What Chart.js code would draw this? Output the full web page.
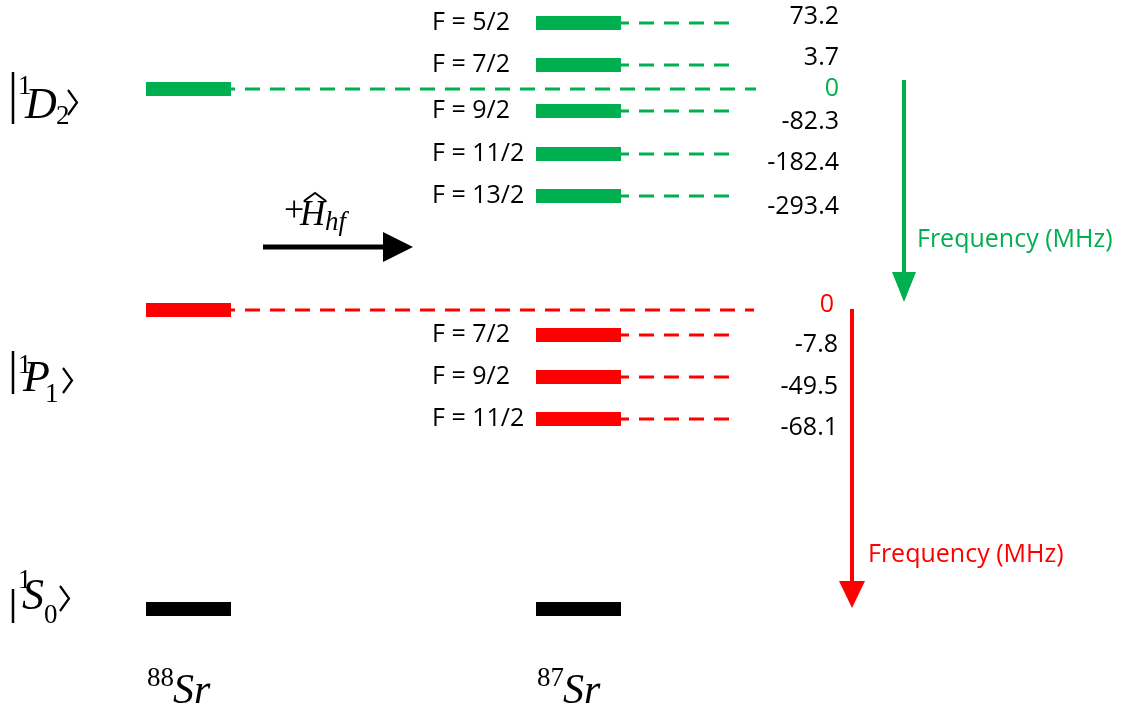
<!DOCTYPE html>
<html>
<head>
<meta charset="utf-8">
<script src="https://cdn.jsdelivr.net/npm/chart.js@4.4.1/dist/chart.umd.min.js"></script>
<style>
  html, body { margin: 0; padding: 0; background: #fff; }
  #wrap { width: 1125px; height: 711px; position: relative; }
</style>
</head>
<body>
<div id="wrap"><canvas id="myChart"></canvas></div>
<script>
'use strict';

// --- data ---
var isotopes = ['88', '87'];
var stateTerms = ['D', 'P', 'S'];
var stateJ = ['2', '1', '0'];
var stateColors = ['#00B050', '#FF0000', '#000000'];
var dLabels = ['F = 5/2', 'F = 7/2', 'F = 9/2', 'F = 11/2', 'F = 13/2'];
var dShifts = [73.2, 3.7, -82.3, -182.4, -293.4];
var pLabels = ['F = 7/2', 'F = 9/2', 'F = 11/2'];
var pShifts = [-7.8, -49.5, -68.1];
var axisTitle = 'Frequency (MHz)';

// --- layout of the schematic (diagram coordinates) ---
var col88 = [146, 231];
var col87 = [536, 621];
var stateY = [89, 310, 609];
var dRowY = [23, 65, 111, 154, 196];
var pRowY = [335, 377, 419];
var dShiftY = [17, 58, 122, 163, 207];
var pShiftY = [345, 387, 428];

function seg(x1, x2, y, color, width, dash) {
    return {
        data: [{ x: x1, y: y }, { x: x2, y: y }],
        borderColor: color,
        backgroundColor: color,
        borderWidth: width,
        borderDash: dash || [],
        borderCapStyle: 'butt',
        showLine: true,
        pointRadius: 0,
        clip: false
    };
}

var datasets = [];
// 88Sr levels
stateY.forEach(function (y, i) {
    datasets.push(seg(col88[0], col88[1], y, stateColors[i], 14));
});
// 87Sr hyperfine levels
dRowY.forEach(function (y) {
    datasets.push(seg(col87[0], col87[1], y, stateColors[0], 14));
    datasets.push(seg(614, 730, y, stateColors[0], 3, [15, 10]));
});
pRowY.forEach(function (y) {
    datasets.push(seg(col87[0], col87[1], y, stateColors[1], 14));
    datasets.push(seg(614, 730, y, stateColors[1], 3, [15, 10]));
});
datasets.push(seg(col87[0], col87[1], stateY[2], stateColors[2], 14));
// reference dashed lines
datasets.push(seg(220, 756, stateY[0], stateColors[0], 3, [15, 10]));
datasets.push(seg(220, 754, stateY[1], stateColors[1], 3, [15, 10]));

function fmt(v) { return v.toFixed(1); }

var sans = '"Open Sans", sans-serif';
var serif = '"Liberation Serif", serif';

function arrow(ctx, x1, y1, x2, y2, color, shaft, headLen, headW) {
    var a = Math.atan2(y2 - y1, x2 - x1);
    var bx = x2 - Math.cos(a) * headLen, by = y2 - Math.sin(a) * headLen;
    ctx.save();
    ctx.strokeStyle = color; ctx.fillStyle = color; ctx.lineWidth = shaft;
    ctx.beginPath(); ctx.moveTo(x1, y1); ctx.lineTo(bx, by); ctx.stroke();
    ctx.beginPath();
    ctx.moveTo(x2, y2);
    ctx.lineTo(bx + Math.sin(a) * headW / 2, by - Math.cos(a) * headW / 2);
    ctx.lineTo(bx - Math.sin(a) * headW / 2, by + Math.cos(a) * headW / 2);
    ctx.closePath(); ctx.fill();
    ctx.restore();
}

function text(ctx, s, x, y, font, color, align, base) {
    ctx.font = font;
    ctx.fillStyle = color || '#000';
    ctx.textAlign = align || 'left';
    ctx.textBaseline = base || 'alphabetic';
    ctx.fillText(s, x, y);
}

function ket(ctx, X, Y, k, g) {
    // g: [barTop, barBot, supBase, termX, termBase, subX, subBase, angX, angTop, angBot]
    ctx.save();
    ctx.strokeStyle = '#000'; ctx.lineWidth = 2.5;
    ctx.beginPath(); ctx.moveTo(X(13), Y(g[0])); ctx.lineTo(X(13), Y(g[1])); ctx.stroke();
    text(ctx, '1', X(18), Y(g[2]), '27px ' + serif);
    text(ctx, stateTerms[k], X(g[3]), Y(g[4]), 'italic 44px ' + serif);
    text(ctx, stateJ[k], X(g[5]), Y(g[6]), '27px ' + serif);
    ctx.lineWidth = 2.2;
    ctx.beginPath();
    ctx.moveTo(X(g[7]), Y(g[8]));
    ctx.lineTo(X(g[7] + 9), Y((g[8] + g[9]) / 2));
    ctx.lineTo(X(g[7]), Y(g[9]));
    ctx.stroke();
    ctx.restore();
}

var labelsPlugin = {
    id: 'labels',
    afterDatasetsDraw: function (chart) {
        var ctx = chart.ctx;
        var X = function (v) { return chart.scales.x.getPixelForValue(v); };
        var Y = function (v) { return chart.scales.y.getPixelForValue(v); };
        var f = '25px ' + sans;

        dLabels.forEach(function (s, i) { text(ctx, s, X(432), Y(dRowY[i]), f, '#000', 'left', 'middle'); });
        pLabels.forEach(function (s, i) { text(ctx, s, X(432), Y(pRowY[i]), f, '#000', 'left', 'middle'); });
        dShifts.forEach(function (v, i) { text(ctx, fmt(v), X(839), Y(dShiftY[i]), f, '#000', 'right', 'middle'); });
        pShifts.forEach(function (v, i) { text(ctx, fmt(v), X(838), Y(pShiftY[i]), f, '#000', 'right', 'middle'); });
        text(ctx, '0', X(839), Y(stateY[0]), f, stateColors[0], 'right', 'middle');
        text(ctx, '0', X(834), Y(305), f, stateColors[1], 'right', 'middle');

        arrow(ctx, X(904), Y(80), X(904), Y(302), stateColors[0], 4, 30, 24);
        arrow(ctx, X(852), Y(309), X(852), Y(608), stateColors[1], 4, 27, 26);
        arrow(ctx, X(263), Y(247), X(413), Y(247), '#000', 5, 30, 30);
        text(ctx, axisTitle, X(917), Y(240), '25px ' + sans, stateColors[0], 'left', 'middle');
        text(ctx, axisTitle, X(868), Y(555), '25px ' + sans, stateColors[1], 'left', 'middle');

        // +H_hf
        text(ctx, '+', X(284), Y(221), '36px ' + serif);
        text(ctx, 'H', X(300), Y(225), 'italic 35px ' + serif);
        ctx.save();
        ctx.strokeStyle = '#000'; ctx.lineWidth = 2;
        ctx.beginPath(); ctx.moveTo(X(304), Y(201)); ctx.lineTo(X(315), Y(193)); ctx.lineTo(X(326), Y(201)); ctx.stroke();
        ctx.restore();
        text(ctx, 'hf', X(325), Y(230), 'italic 27px ' + serif);

        // state kets
        ket(ctx, X, Y, 0, [72, 124, 94, 25, 118, 56, 124, 68, 90, 115]);
        ket(ctx, X, Y, 1, [351, 394, 373, 23, 391, 45, 402, 63, 368, 393]);
        ket(ctx, X, Y, 2, [589, 623, 588, 22, 609, 44, 623, 60, 586, 611]);

        // isotope labels
        [col88[0], col87[0]].forEach(function (x0, i) {
            text(ctx, isotopes[i], X(x0 + 1), Y(686), '27px ' + serif);
            text(ctx, 'Sr', X(x0 + 27), Y(703), 'italic 42px ' + serif);
        });
    }
};

var ctx = document.getElementById('myChart').getContext('2d');
var chart = new Chart(ctx, {
    type: 'scatter',
    data: { datasets: datasets },
    options: {
        responsive: true,
        maintainAspectRatio: false,
        animation: false,
        layout: { padding: 0 },
        plugins: { legend: { display: false }, tooltip: { enabled: false } },
        scales: {
            x: { type: 'linear', min: 0, max: 1125, display: false },
            y: { type: 'linear', min: 0, max: 711, reverse: true, display: false }
        }
    },
    plugins: [labelsPlugin]
});
</script>
</body>
</html>
